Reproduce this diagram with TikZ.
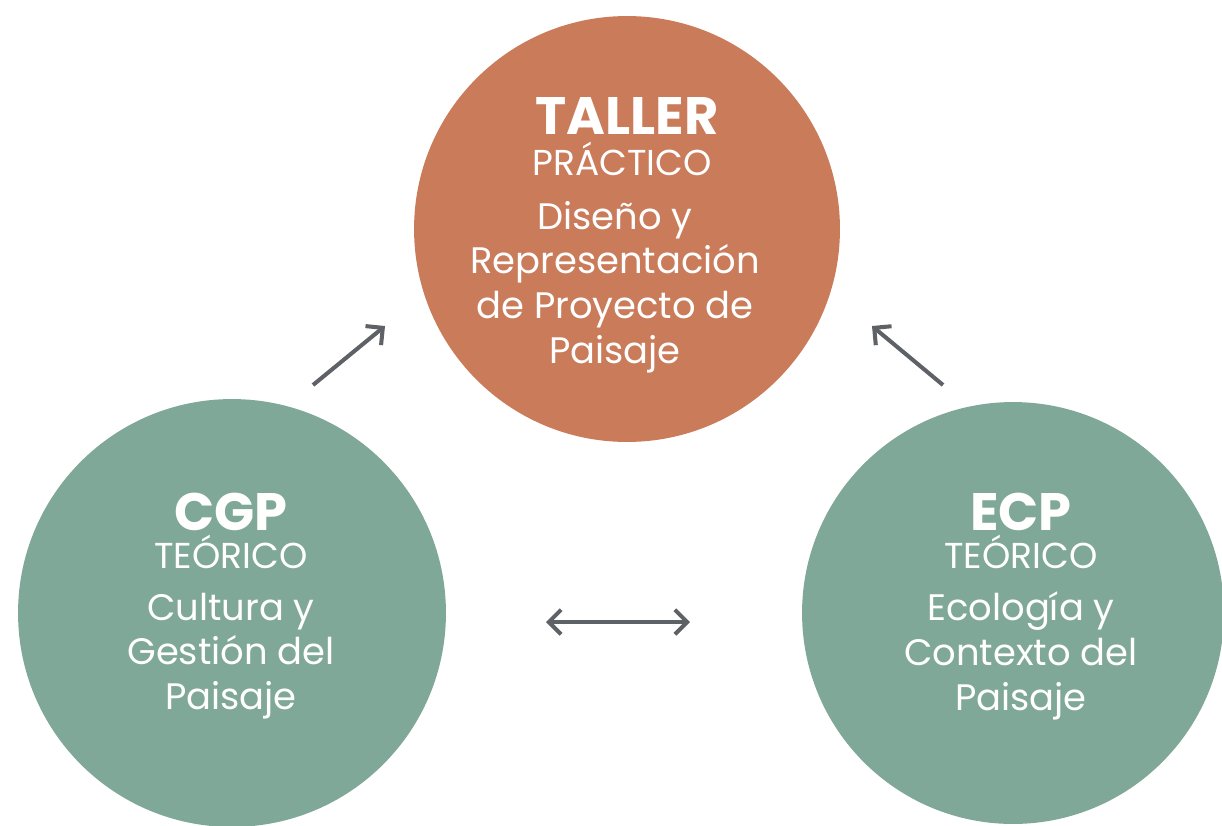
\documentclass[tikz,border=0pt]{standalone}
\usepackage{fontspec}
\setmainfont{Poppins}
\usetikzlibrary{arrows.meta}

\definecolor{tallerorange}{HTML}{C97B5A}
\definecolor{teoriagreen}{HTML}{7FA898}
\definecolor{arrowgray}{HTML}{5E6266}

\tikzset{
	bubble/.style={circle, fill=#1, inner sep=0pt},
	headtext/.style={text=white, inner sep=0pt, font=\fontsize{30}{30}\selectfont\bfseries},
	kindtext/.style={text=white, inner sep=0pt, font=\fontsize{20.5}{21}\selectfont},
	bodytext/.style={text=white, inner sep=0pt, align=center, font=\fontsize{21}{25.5}\selectfont},
	flow/.style={draw=arrowgray, line width=2.3pt, -{Straight Barb[length=7pt,width=14pt]}}
}

\begin{document}
\begin{tikzpicture}[x=0.02cm, y=-0.02cm]
	\useasboundingbox (0,0) rectangle (1222,825);
	\begin{scope}
	\clip (0,0) rectangle (1222,825);
	\node[bubble=tallerorange, minimum size=8.52cm] (taller) at (627,229) {};
	\node[bubble=teoriagreen, minimum size=8.56cm] (cgp) at (232,613) {};
	\node[bubble=teoriagreen, minimum size=8.44cm] (ecp) at (1013,613) {};
	\end{scope}

	% taller
	\node[headtext] (tallerhead) at (627,116) {TALLER};
	\node[kindtext] (tallerkind) at (622,159) {PRÁCTICO};
	\node[bodytext] (tallerbody) at (615,287) {Diseño y\\Representación\\de Proyecto de\\Paisaje};

	% cgp
	\node[headtext] (cgphead) at (231,512) {CGP};
	\node[kindtext] (cgpkind) at (231,552) {TEÓRICO};
	\node[bodytext] (cgpbody) at (231,656) {Cultura y\\Gestión del\\Paisaje};

	% ecp
	\node[headtext] (ecphead) at (1021,512) {ECP};
	\node[kindtext] (ecpkind) at (1021,552) {TEÓRICO};
	\node[bodytext] (ecpbody) at (1021,656) {Ecología y\\Contexto del\\Paisaje};

	% arrows
	\coordinate (cgpout) at (313,385);
	\coordinate (tallerinleft) at (385,326);
	\coordinate (ecpout) at (943,385);
	\coordinate (tallerinright) at (872,326);
	\coordinate (midleft) at (546,622);
	\coordinate (midright) at (690,622);
	\draw[flow] (cgpout) -- (tallerinleft);
	\draw[flow] (ecpout) -- (tallerinright);
	\draw[draw=arrowgray, line width=2.3pt, {Straight Barb[length=7pt,width=14pt]}-{Straight Barb[length=7pt,width=14pt]}] (midleft) -- (midright);
\end{tikzpicture}
\end{document}
